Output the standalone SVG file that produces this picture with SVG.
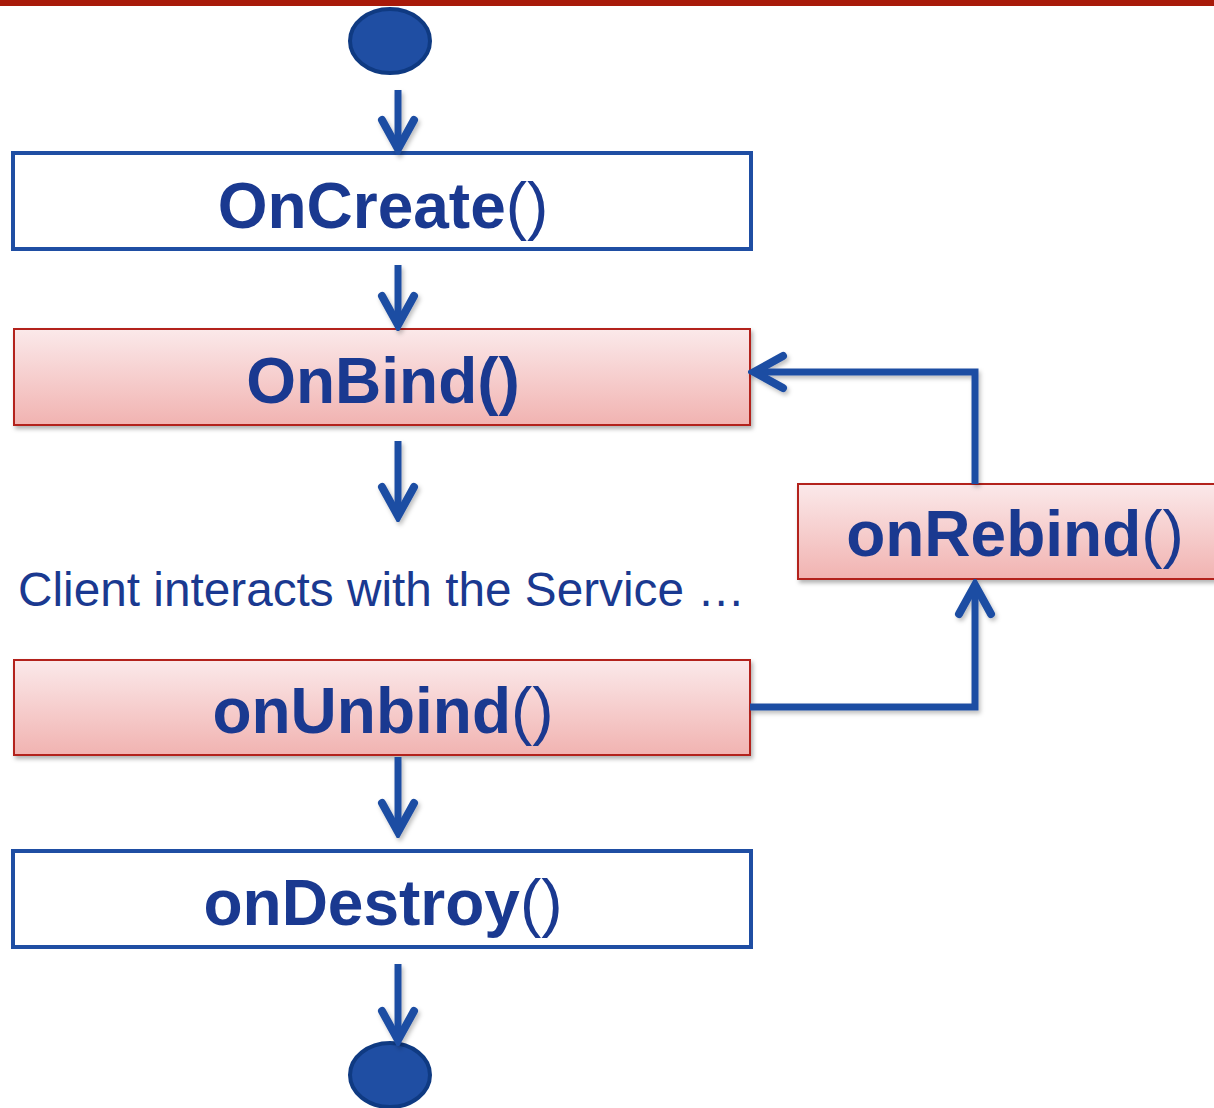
<svg xmlns="http://www.w3.org/2000/svg" width="1214" height="1108" viewBox="0 0 1214 1108">
<defs>
<linearGradient id="pink" x1="0" y1="0" x2="0" y2="1">
<stop offset="0" stop-color="#fbe9ea"/>
<stop offset="1" stop-color="#f1b3b1"/>
</linearGradient>
<filter id="sh" x="-5%" y="-10%" width="110%" height="130%">
<feDropShadow dx="2" dy="3" stdDeviation="2" flood-color="#000" flood-opacity="0.3"/>
</filter>
<filter id="ash" filterUnits="userSpaceOnUse" x="0" y="0" width="1214" height="1108">
<feDropShadow dx="2" dy="3" stdDeviation="2" flood-color="#000" flood-opacity="0.25"/>
</filter>
<marker id="chev" markerUnits="userSpaceOnUse" viewBox="-40 -25 46 50" refX="0" refY="0" markerWidth="46" markerHeight="50" orient="auto">
<path d="M-29,-16 L0,0 L-29,16" fill="none" stroke="#1f4ea3" stroke-width="8" stroke-linecap="round" stroke-linejoin="miter"/>
</marker>
</defs>
<style>
.wbox{fill:#ffffff;stroke:#1f4ea3;stroke-width:4}
.pbox{fill:url(#pink);stroke:#b3231b;stroke-width:2;filter:url(#sh)}
.lbl{font-family:"Liberation Sans",Arial,sans-serif;font-size:64px;font-weight:bold;fill:#1a3990;text-anchor:middle}
.par{font-weight:normal}
.conn{fill:none;stroke:#1f4ea3;stroke-width:7;marker-end:url(#chev)}
.term{fill:#1f4ea3;stroke:#0f3a82;stroke-width:4}
</style>
<rect x="0" y="0" width="1214" height="6" fill="#a81a0a"/>
<g id="start"><ellipse class="term" cx="390" cy="41" rx="40" ry="32"/></g>
<g id="oncreate"><rect class="wbox" x="13" y="153" width="738" height="96"/><text class="lbl" x="383" y="228">OnCreate<tspan class="par">()</tspan></text></g>
<g id="onbind"><rect class="pbox" x="14" y="329" width="736" height="96"/><text class="lbl" x="383" y="403">OnBind()</text></g>
<g id="client"><text x="18" y="606" font-family="'Liberation Sans',Arial,sans-serif" font-size="48" fill="#1a3990" textLength="727" lengthAdjust="spacingAndGlyphs">Client interacts with the Service …</text></g>
<g id="onunbind"><rect class="pbox" x="14" y="660" width="736" height="95"/><text class="lbl" x="383" y="733">onUnbind<tspan class="par">()</tspan></text></g>
<g id="onrebind"><rect class="pbox" x="798" y="484" width="430" height="95"/><text class="lbl" x="1015" y="556">onRebind<tspan class="par">()</tspan></text></g>
<g id="ondestroy"><rect class="wbox" x="13" y="851" width="738" height="96"/><text class="lbl" x="383" y="925">onDestroy<tspan class="par">()</tspan></text></g>
<g id="end"><ellipse class="term" cx="390" cy="1075" rx="40" ry="32"/></g>
<g id="connectors" filter="url(#ash)">
<path class="conn" d="M398,90 L398,149"/>
<path class="conn" d="M398,265 L398,325"/>
<path class="conn" d="M398,441 L398,516"/>
<path class="conn" d="M398,757 L398,832"/>
<path class="conn" d="M398,964 L398,1040"/>
<path class="conn" d="M750,707 L975,707 L975,585"/>
<path class="conn" d="M975,484 L975,372 L754,372"/>
</g>
</svg>
